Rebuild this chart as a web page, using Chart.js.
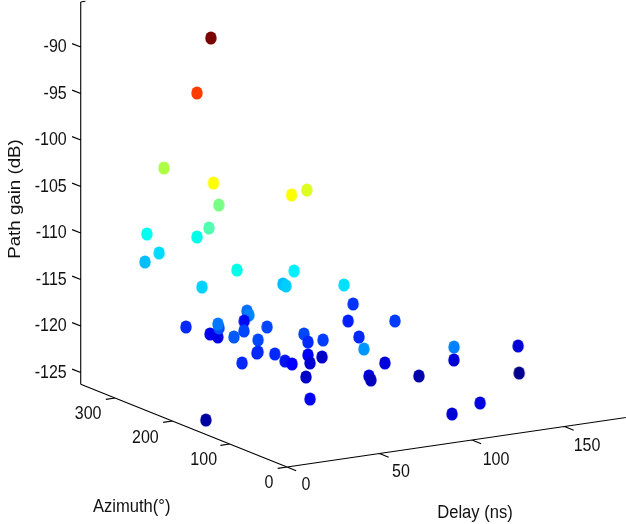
<!DOCTYPE html>
<html>
<head>
<meta charset="utf-8">
<style>html,body{margin:0;padding:0;background:#fff}canvas{display:block}</style>
<script src="https://cdn.jsdelivr.net/npm/chart.js@4/dist/chart.umd.min.js"></script>
</head>
<body>
<canvas id="c" width="626" height="524"></canvas>
<script>
// Values
const delayNs = [49.1,46.2,41.7,31.8,52.8,70.2,57.2,44.4,30.4,53.7,27.5,22.2,35.1,63.2,76.5,22.8,68.0,60.8,35.8,56.8,56.9,32.3,22.9,49.1,40.4,73.0,42.9,26.6,56.0,39.6,40.0,37.8,20.6,42.5,49.7,51.4,63.7,71.1,69.0,66.6,70.5,84.9,58.8,28.5,122.9,107.8,118.1,94.5,44.1,100.2,78.3,85.2,117.4,93.8,130.5,94.8,112.2,169.8,173.8,0.5];
const azimuthDeg = [291.3,306.3,349.3,231.0,162.5,191.9,303.6,279.5,342.6,330.5,312.0,319.5,200.6,191.7,147.6,222.0,226.7,198.2,291.9,317.7,304.4,222.9,194.4,228.4,196.9,310.5,213.6,178.4,215.6,178.4,181.7,172.6,145.0,158.4,163.9,157.2,176.1,193.0,159.9,178.4,187.5,213.0,156.7,51.8,281.5,241.4,192.9,179.5,8.2,152.6,109.8,128.6,148.8,11.3,130.1,18.1,25.3,144.9,156.0,143.1];
const gainDb = [-88.75,-94.95,-103.95,-102.35,-102.55,-103.25,-107.25,-108.75,-110.55,-111.25,-111.75,-112.75,-111.05,-111.75,-112.55,-113.05,-114.15,-113.45,-119.45,-121.45,-121.45,-117.75,-116.35,-116.55,-115.95,-120.35,-118.15,-117.45,-118.15,-118.15,-119.65,-119.25,-119.25,-119.25,-120.35,-120.55,-118.15,-119.65,-118.55,-120.55,-121.75,-122.15,-122.15,-121.05,-119.25,-119.65,-118.75,-119.45,-115.05,-121.75,-121.45,-122.55,-123.55,-116.35,-121.75,-123.75,-123.25,-121.75,-125.05,-124.75];
const pointColors = ['#7a0000','#ff3c00','#adff46','#ffff00','#fbff00','#dcff20','#78ff86','#50ffb0','#00fff0','#00ffe8','#00dcff','#00beff','#00ffe6','#00f0ff','#00e1ff','#00d2ff','#00beff','#00cdff','#0028ff','#0000f0','#0000e6','#0050ff','#0078ff','#006eff','#0082ff','#000af0','#0046ff','#005aff','#0046ff','#0046ff','#001eff','#0028ff','#0028ff','#0028ff','#0014f0','#0000ff','#0046ff','#0028ff','#003cff','#0000ff','#0000d2','#0000c8','#0000c8','#0000f5','#0032ff','#001eff','#003cff','#0028ff','#0096ff','#0000dc','#0000dc','#0000be','#0000aa','#0082ff','#0000d7','#0000d7','#0000e1','#0000d7','#00008c','#0000a0'];
const delayTicks = [0,50,100,150];
const azimuthTicks = [0,100,200,300];
const gainTicks = [-90,-95,-100,-105,-110,-115,-120,-125];
const delayLabel = 'Delay (ns)';
const azimuthLabel = 'Azimuth(\u00b0)';
const gainLabel = 'Path gain (dB)';

// View of the 3-D box
const view = {ox:287, oy:467, dx:1.85, dy:0.27, ax:0.573, ay:0.23, gz:9.3, gMin:-126.25, gMax:-85.15, dMax:190, aMax:360};
const azimuthLabelOffsets = [[-18,16],[-26,16],[-27,17],[-27,16]];
const delayLabelOffsets = [[19,18],[21.5,18.5],[24,20],[22.5,19.5]];
function project(d,a,g){
  return {x: view.ox + view.dx*d - view.ax*a,
          y: view.oy - view.dy*d - view.ay*a - view.gz*(g - view.gMin)};
}
function segments(list){
  const out=[];
  list.forEach(s=>{ out.push(project(...s[0]),project(...s[1]),{x:NaN,y:NaN}); });
  return out;
}
const axisSegs = [
  [[0,0,view.gMin],[view.dMax,0,view.gMin]],
  [[0,0,view.gMin],[0,view.aMax,view.gMin]],
  [[0,view.aMax,view.gMin],[0,view.aMax,view.gMax]],
  [[0,view.aMax,view.gMax],[2.5,view.aMax,view.gMax]]
];
delayTicks.forEach(d=>axisSegs.push([[d,0,view.gMin],[d,-16,view.gMin]]));
azimuthTicks.forEach(a=>axisSegs.push([[0,a,view.gMin],[-5,a,view.gMin]]));
gainTicks.forEach(g=>axisSegs.push([[0,view.aMax,g],[0,view.aMax+15,g]]));

function ellipseSprite(color){
  const s=document.createElement('canvas'); s.width=14; s.height=16;
  const c=s.getContext('2d');
  c.fillStyle=color; c.beginPath(); c.ellipse(7,8,5.7,6.6,0,0,Math.PI*2); c.fill();
  return s;
}
const sprites = pointColors.map(ellipseSprite);

const textPlugin = {
  id:'axisText',
  afterDraw(chart){
    const c=chart.ctx, X=chart.scales.x, Y=chart.scales.y;
    const put=(p,dx,dy,t,al,sx)=>{
      c.save();
      c.translate(X.getPixelForValue(p.x)+dx,Y.getPixelForValue(p.y)+dy);
      c.scale(sx,1);
      c.textAlign=al||'center';
      c.fillText(t,0,0);
      c.restore();
    };
    c.save();
    c.fillStyle='#111'; c.textBaseline='middle';
    c.font='18px "Liberation Sans", Arial, sans-serif';
    gainTicks.forEach(g=>put(project(0,view.aMax,g),-14,0,String(g),'right',0.89));
    azimuthTicks.forEach((a,i)=>put(project(0,a,view.gMin),azimuthLabelOffsets[i][0],azimuthLabelOffsets[i][1],String(a),'center',0.89));
    delayTicks.forEach((d,i)=>put(project(d,0,view.gMin),delayLabelOffsets[i][0],delayLabelOffsets[i][1],String(d),'center',0.89));
    put(project(0,360,view.gMin),51,123,azimuthLabel,'center',0.92);
    put(project(100,0,view.gMin),3,73,delayLabel,'center',0.92);
    c.translate(16,199); c.rotate(-Math.PI/2); c.textAlign='center';
    c.font='16px "Liberation Sans", Arial, sans-serif';
    c.scale(1.17,1);
    c.fillText(gainLabel,0,0);
    c.restore();
  }
};

new Chart(document.getElementById('c'),{
  type:'scatter',
  data:{datasets:[
    {data:segments(axisSegs),showLine:true,borderColor:'#000',borderWidth:1.1,pointRadius:0,spanGaps:false,order:2,clip:false},
    {data:delayNs.map((d,i)=>project(d,azimuthDeg[i],gainDb[i])),pointStyle:sprites,pointRadius:6,pointBorderWidth:0,showLine:false,order:1,clip:false}
  ]},
  options:{
    responsive:false,animation:false,devicePixelRatio:1,
    layout:{padding:0,autoPadding:false},
    plugins:{legend:{display:false},tooltip:{enabled:false}},
    scales:{
      x:{type:'linear',min:0,max:626,display:false},
      y:{type:'linear',min:0,max:524,reverse:true,display:false}
    }
  },
  plugins:[textPlugin]
});
</script>
</body>
</html>
